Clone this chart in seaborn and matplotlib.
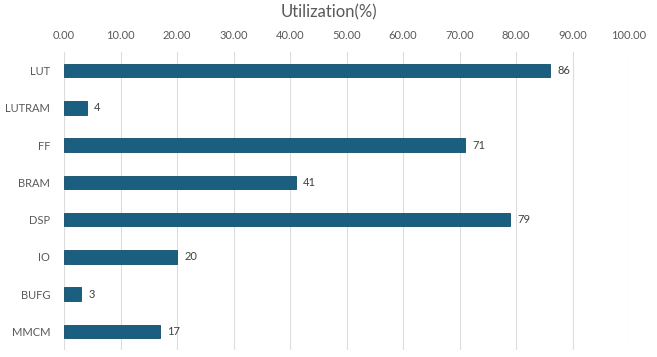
import pandas as pd
import seaborn as sns
import matplotlib.pyplot as plt

# resource utilization data
resources = ['LUT', 'LUTRAM', 'FF', 'BRAM', 'DSP', 'IO', 'BUFG', 'MMCM']
utilization = [86, 4, 71, 41, 79, 20, 3, 17]
ticks = [0, 10, 20, 30, 40, 50, 60, 70, 80, 90, 100]

df = pd.DataFrame({'resource': resources, 'util': utilization})

sns.set_style('white')
plt.rcParams['font.family'] = ['Lato', 'DejaVu Sans']

fig = plt.figure(figsize=(6.57, 3.57), dpi=100)
ax = fig.add_axes([64/657, 1 - 350/357, (629 - 64)/657, (350 - 52)/357])

sns.barplot(data=df, x='util', y='resource', color='#1A5E80', saturation=1,
            width=0.36, edgecolor='#124c69', linewidth=0.6, ax=ax, zorder=3)

ax.set_xlim(0, 100)
ax.set_ylim(7.5, -0.5)
ax.set_xticks(ticks)
ax.set_xticklabels([f'{t:.2f}' for t in ticks], fontsize=8, color='#595959')
ax.xaxis.tick_top()
ax.tick_params(axis='both', length=0, pad=8)
ax.tick_params(axis='y', labelsize=8, labelcolor='#595959', pad=10)
ax.grid(axis='x', color='#dcdcdc', linewidth=0.8, zorder=0)
for s in ax.spines.values():
    s.set_visible(False)
ax.set_xlabel('')
ax.set_ylabel('')

# value labels
for i, v in enumerate(utilization):
    ax.text(v + 1.3, i, str(v), va='center', ha='left', fontsize=8, color='#404040')

fig.text(0.5, 1 - 12/357, 'Utilization(%)', ha='center', va='center',
         fontsize=12, color='#595959')

plt.savefig('out.png', dpi=100)
